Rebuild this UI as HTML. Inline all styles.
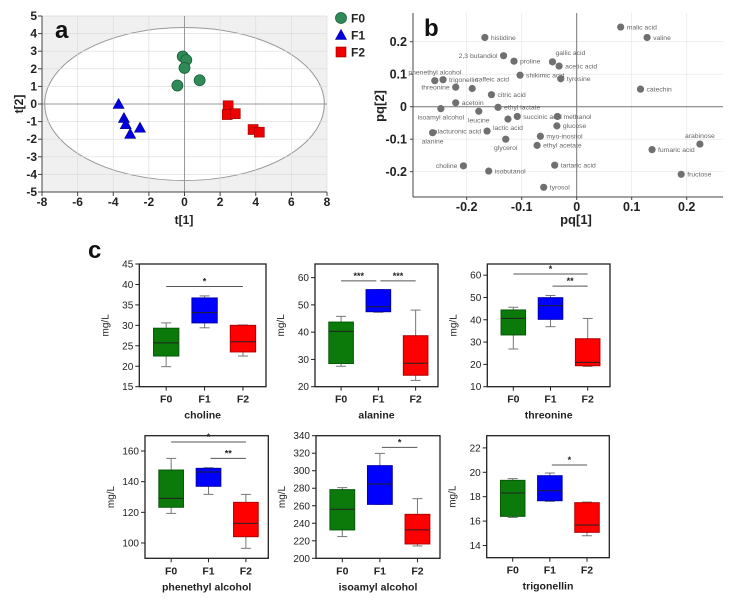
<!DOCTYPE html>
<html><head><meta charset="utf-8"><style>
html,body{margin:0;padding:0;background:#fff}
svg{display:block;font-family:"Liberation Sans",Arial,sans-serif}
</style></head><body>
<svg id="fig" width="733" height="609" viewBox="0 0 733 609" xmlns="http://www.w3.org/2000/svg"></svg>
<script>
// ---------- Panel a data ----------
const aGroups = ["F0","F1","F2"];
const aF0x = [-0.1, 0.1, 0.0, -0.4, 0.85];
const aF0y = [2.7, 2.5, 2.05, 1.05, 1.35];
const aF1x = [-3.7, -3.4, -3.3, -3.05, -2.5];
const aF1y = [0.0, -0.8, -1.15, -1.7, -1.35];
const aF2x = [2.45, 2.4, 2.85, 3.85, 4.2];
const aF2y = [-0.1, -0.6, -0.55, -1.45, -1.6];
const aXTicks = [-8,-6,-4,-2,0,2,4,6,8];
const aYTicks = [5,4,3,2,1,0,-1,-2,-3,-4,-5];
// ---------- Panel b data ----------
const bNames = ["malic acid","valine","histidine","2,3 butandiol","proline","gallic acid","acetic acid","phenethyl alcohol","trigonellin","shikimic acid","tyrosine","caffeic acid","threonine","catechin","citric acid","acetoin","isoamyl alcohol","leucine","ethyl lactate","succinic acid","methanol","lactic acid","glucose","galacturonic acid","alanine","myo-inositol","glycerol","ethyl acetate","arabinose","fumaric acid","choline","tartaric acid","isobutanol","fructose","tyrosol"];
const bPq1 = [0.08,0.128,-0.167,-0.133,-0.114,-0.044,-0.032,-0.258,-0.243,-0.103,-0.029,-0.19,-0.22,0.116,-0.155,-0.22,-0.247,-0.178,-0.143,-0.108,-0.035,-0.125,-0.036,-0.163,-0.262,-0.066,-0.129,-0.072,0.224,0.137,-0.206,-0.04,-0.16,0.19,-0.06];
const bPq2 = [0.245,0.213,0.213,0.157,0.14,0.138,0.125,0.08,0.083,0.097,0.086,0.056,0.06,0.054,0.037,0.012,-0.006,-0.014,-0.002,-0.03,-0.03,-0.038,-0.059,-0.075,-0.08,-0.091,-0.1,-0.119,-0.115,-0.132,-0.182,-0.18,-0.198,-0.208,-0.248];
const bLabelPos = ["r","r","r","l","r","ar","r","a","r","r","r","ar","l","r","r","r","b","b","r","r","r","b","r","l","b","r","b","r","a","r","l","r","r","r","r"];
const bXTicks = [-0.2,-0.1,0,0.1,0.2];
const bYTicks = [0.2,0.1,0,-0.1,-0.2];
// ---------- Panel c data ----------
const cCats = ["F0","F1","F2"];
const cNames = ["choline","alanine","threonine","phenethyl alcohol","isoamyl alcohol","trigonellin"];
const cRanges = [[15,45],[20,65],[10,65],[90,170],[200,340],[13,23]];
const cTicks = [[15,20,25,30,35,40,45],[20,30,40,50,60],[10,20,30,40,50,60],[100,120,140,160],[200,220,240,260,280,300,320,340],[14,16,18,20,22]];
const cWhiskLo = [[19.9,29.4,22.5],[27.5,47.3,22.3],[26.9,36.9,19.1],[119.3,131.7,96.5],[224.8,261.6,214.1],[16.3,17.62,14.8]];
const cQ1 = [[22.5,30.6,23.5],[28.5,47.5,24.2],[33.2,40.2,19.4],[123.3,137,104.1],[232.4,261.6,216.4],[16.39,17.67,15.08]];
const cMed = [[25.7,33.1,26],[40.3,49.3,28.6],[40.6,46.3,20.9],[129.1,146.3,112.8],[256,284.8,232.4],[18.3,18.49,15.68]];
const cQ3 = [[29.3,36.7,30],[43.7,55.6,38.7],[44.4,49.9,31.5],[147.6,148.7,126.5],[278.4,305.8,250.2],[19.34,19.72,17.51]];
const cWhiskHi = [[30.6,37.2,30.1],[45.8,55.6,48.1],[45.6,50.9,40.6],[155.2,149.1,131.7],[280.7,319.8,268.1],[19.48,19.94,17.56]];
// significance: [fromIdx, toIdx, yValue, stars]
const cSig = [[[0,2,39.5,"*"]],[[0,1,58.8,"***"],[1,2,58.8,"***"]],[[0,2,60.5,"*"],[1,2,55.1,"**"]],[[0,2,165.9,"*"],[1,2,155.2,"**"]],[[1,2,326.7,"*"]],[[1,2,20.6,"*"]]];

const NS="http://www.w3.org/2000/svg";
const svg=document.getElementById('fig');
function mk(tag,attrs,parent,text){const e=document.createElementNS(NS,tag);for(const k in attrs)e.setAttribute(k,attrs[k]);if(text!==undefined)e.textContent=text;(parent||svg).appendChild(e);return e;}

// ===== Panel a =====
const ga=mk('g',{});


const aL=42,aR=327,aT=16,aB=192;
const ax=v=>aL+(v+8)/16*(aR-aL);
const ay=v=>aT+(5-v)/10*(aB-aT);
mk('rect',{x:aL,y:aT,width:aR-aL,height:aB-aT,fill:'#f0f0f0'},ga);
mk('ellipse',{cx:ax(0),cy:ay(0),rx:ax(7.85)-ax(0),ry:ay(0)-ay(4.35),fill:'#fff',stroke:'#999','stroke-width':1},ga);
for(const t of aXTicks){mk('line',{x1:ax(t),x2:ax(t),y1:aT,y2:aB,stroke:'#ddd','stroke-width':0.7},ga);}
for(const t of aYTicks){mk('line',{x1:aL,x2:aR,y1:ay(t),y2:ay(t),stroke:'#ddd','stroke-width':0.7},ga);}
mk('line',{x1:ax(0),x2:ax(0),y1:aT,y2:aB,stroke:'#999','stroke-width':1},ga);
mk('line',{x1:aL,x2:aR,y1:ay(0),y2:ay(0),stroke:'#999','stroke-width':1},ga);
mk('line',{x1:aL,x2:aL,y1:aT,y2:aB,stroke:'#444','stroke-width':1},ga);
mk('line',{x1:aL,x2:aR,y1:aB,y2:aB,stroke:'#444','stroke-width':1},ga);
for(const t of aXTicks){
  mk('line',{x1:ax(t),x2:ax(t),y1:aB,y2:aB+4,stroke:'#444'},ga);
  const l=mk('text',{x:ax(t),y:aB+14,'text-anchor':'middle','font-size':12,'font-weight':'bold',fill:'#222'},ga,String(t));
  
  
}
for(const t of aYTicks){
  mk('line',{x1:aL-4,x2:aL,y1:ay(t),y2:ay(t),stroke:'#444'},ga);
  const l=mk('text',{x:aL-5,y:ay(t)+4,'text-anchor':'end','font-size':12,'font-weight':'bold',fill:'#222'},ga,String(t));
  
  
}
const atx=mk('text',{x:184,y:224,'text-anchor':'middle','font-size':12,'font-weight':'bold',fill:'#222'},ga,'t[1]');

const aty=mk('text',{x:0,y:0,transform:'translate(23,104) rotate(-90)','text-anchor':'middle','font-size':12,'font-weight':'bold',fill:'#222'},ga,'t[2]');

const pa=mk('text',{x:55,y:38,'font-size':24,'font-weight':'bold',fill:'#111'},ga,'a');

function circle(x,y,r,g){return mk('circle',{cx:x,cy:y,r:r,fill:'#2e8b57',stroke:'#1d5e3a','stroke-width':0.8},g);}
function tri(x,y,s,g){return mk('polygon',{points:`${x},${y-s} ${x-s},${y+s*0.8} ${x+s},${y+s*0.8}`,fill:'#0000e0',stroke:'#000090','stroke-width':0.6},g);}
function sq(x,y,s,g){return mk('rect',{x:x-s,y:y-s,width:2*s,height:2*s,fill:'#ee0000',stroke:'#990000','stroke-width':0.6},g);}
for(let i=0;i<aF0x.length;i++){const e=circle(ax(aF0x[i]),ay(aF0y[i]),5.5,ga);}
for(let i=0;i<aF1x.length;i++){const e=tri(ax(aF1x[i]),ay(aF1y[i]),5.5,ga);}
for(let i=0;i<aF2x.length;i++){const e=sq(ax(aF2x[i]),ay(aF2y[i]),5,ga);}
// legend
const lg=mk('g',{},ga);

const legY=[18,35,52];
circle(341,legY[0],5.5,lg);tri(341,legY[1],5.5,lg);sq(341,legY[2],5,lg);
aGroups.forEach((g,i)=>{const t=mk('text',{x:351,y:legY[i]+4.5,'font-size':12,'font-weight':'bold',fill:'#222'},lg,g);});

// ===== Panel b =====
const gb=mk('g',{});

const bL=413,bR=723,bT=13,bB=197;
const bx=v=>576.7+v*550;
const by=v=>106.7-v*325;
for(const t of bXTicks){mk('line',{x1:bx(t),x2:bx(t),y1:bT,y2:bB,stroke:'#e6e6e6','stroke-width':0.7},gb);}
for(const t of bYTicks){mk('line',{x1:bL,x2:bR,y1:by(t),y2:by(t),stroke:'#e6e6e6','stroke-width':0.7},gb);}
mk('line',{x1:bx(0),x2:bx(0),y1:bT,y2:bB,stroke:'#777','stroke-width':1},gb);
mk('line',{x1:bL,x2:bR,y1:by(0),y2:by(0),stroke:'#777','stroke-width':1},gb);
mk('line',{x1:bL,x2:bL,y1:bT,y2:bB,stroke:'#444'},gb);
mk('line',{x1:bL,x2:bR,y1:bB,y2:bB,stroke:'#444'},gb);
for(const t of bXTicks){
  mk('line',{x1:bx(t),x2:bx(t),y1:bB,y2:bB+3,stroke:'#444'},gb);
  const l=mk('text',{x:bx(t),y:bB+14,'text-anchor':'middle','font-size':12.5,'font-weight':'bold',fill:'#222'},gb,String(t));
  
}
for(const t of bYTicks){
  mk('line',{x1:bL-3,x2:bL,y1:by(t),y2:by(t),stroke:'#444'},gb);
  const l=mk('text',{x:bL-6,y:by(t)+4.5,'text-anchor':'end','font-size':12.5,'font-weight':'bold',fill:'#222'},gb,String(t));
  
}
const btx=mk('text',{x:576,y:224,'text-anchor':'middle','font-size':13,'font-weight':'bold',fill:'#222'},gb,'pq[1]');

const bty=mk('text',{x:0,y:0,transform:'translate(384,106) rotate(-90)','text-anchor':'middle','font-size':13,'font-weight':'bold',fill:'#222'},gb,'pq[2]');

const pb=mk('text',{x:424,y:36,'font-size':24,'font-weight':'bold',fill:'#111'},gb,'b');

for(let i=0;i<bNames.length;i++){
  const x=bx(bPq1[i]),y=by(bPq2[i]);
  const c=mk('circle',{cx:x,cy:y,r:3.6,fill:'#707070'},gb);
  
  const p=bLabelPos[i];let tx=x+6,ty=y+2.3,an='start';
  if(p==='l'){tx=x-6;an='end';}
  else if(p==='a'){tx=x;ty=y-6;an='middle';}
  else if(p==='b'){tx=x;ty=y+11;an='middle';}
  else if(p==='ar'){tx=x+3;ty=y-7;}
  const t=mk('text',{x:tx,y:ty,'text-anchor':an,'font-size':6.8,fill:'#666'},gb,bNames[i]);
  
}

// ===== Panel c =====
const pc=mk('text',{x:88,y:258,'font-size':24,'font-weight':'bold',fill:'#111'},null,'c');

const frames=[[139.3,266,264,386.7],[315,438,264,386.7],[487.3,610,264,386.7],[145,268.3,435.7,558.3],[316,440,435.7,558.3],[486.7,609.3,435.7,557.7]];
const fills=['#0b7a0b','#0000ff','#ff0000'];
const strokes=['#075807','#0000aa','#b00000'];
for(let k=0;k<cNames.length;k++){
  const [L,R,T,B]=frames[k];
  const g=mk('g',{});
  
  
  const [lo,hi]=cRanges[k];
  const y=v=>B-(v-lo)/(hi-lo)*(B-T);
  const x=i=>L+(i+0.7)/3.3*(R-L);
  const bw=(R-L)*0.2;
  for(const t of cTicks[k]){
    mk('line',{x1:L-4,x2:L,y1:y(t),y2:y(t),stroke:'#222','stroke-width':1},g);
    const l=mk('text',{x:L-6,y:y(t)+3.5,'text-anchor':'end','font-size':10,fill:'#222'},g,String(t));
    
  }
  for(let i=0;i<3;i++){
    const cx=x(i);
    mk('line',{x1:cx,x2:cx,y1:B,y2:B+4,stroke:'#222'},g);
    const l=mk('text',{x:cx,y:B+16,'text-anchor':'middle','font-size':10.5,'font-weight':'bold',fill:'#222'},g,cCats[i]);
    
    mk('line',{x1:cx,x2:cx,y1:y(cWhiskLo[k][i]),y2:y(cWhiskHi[k][i]),stroke:'#777','stroke-width':1},g);
    mk('line',{x1:cx-5,x2:cx+5,y1:y(cWhiskLo[k][i]),y2:y(cWhiskLo[k][i]),stroke:'#777','stroke-width':1},g);
    mk('line',{x1:cx-5,x2:cx+5,y1:y(cWhiskHi[k][i]),y2:y(cWhiskHi[k][i]),stroke:'#777','stroke-width':1},g);
    const b=mk('rect',{x:cx-bw/2,y:y(cQ3[k][i]),width:bw,height:Math.max(0.5,y(cQ1[k][i])-y(cQ3[k][i])),fill:fills[i],stroke:strokes[i],'stroke-width':1},g);
    
    mk('line',{x1:cx-bw/2,x2:cx+bw/2,y1:y(cMed[k][i]),y2:y(cMed[k][i]),stroke:'#222','stroke-width':1},g);
  }
  for(const s of cSig[k]){
    const x1=x(s[0])+(s[0]===1?-2:0),x2=x(s[1])-(s[0]===0&&s[1]===1?2:0);
    const xa=s[0]===1?x(1)+2:x(s[0]);
    const xb=(s[0]===0&&s[1]===1)?x(1)-2:x(s[1]);
    mk('line',{x1:xa,x2:xb,y1:y(s[2]),y2:y(s[2]),stroke:'#555','stroke-width':1},g);
    const st=mk('text',{x:(xa+xb)/2,y:y(s[2])-2,'text-anchor':'middle','font-size':9,'font-weight':'bold',fill:'#222'},g,s[3]);
    
  }
  mk('rect',{x:L,y:T,width:R-L,height:B-T,fill:'none',stroke:'#222','stroke-width':1.3},g);
  const yt=mk('text',{x:0,y:0,transform:`translate(${L-31},${(T+B)/2}) rotate(-90)`,'text-anchor':'middle','font-size':10,fill:'#222'},g,'mg/L');
  
  const tt=mk('text',{x:(L+R)/2,y:B+32,'text-anchor':'middle','font-size':10.5,'font-weight':'bold',fill:'#222'},g,cNames[k]);
  
}
</script>
</body></html>
